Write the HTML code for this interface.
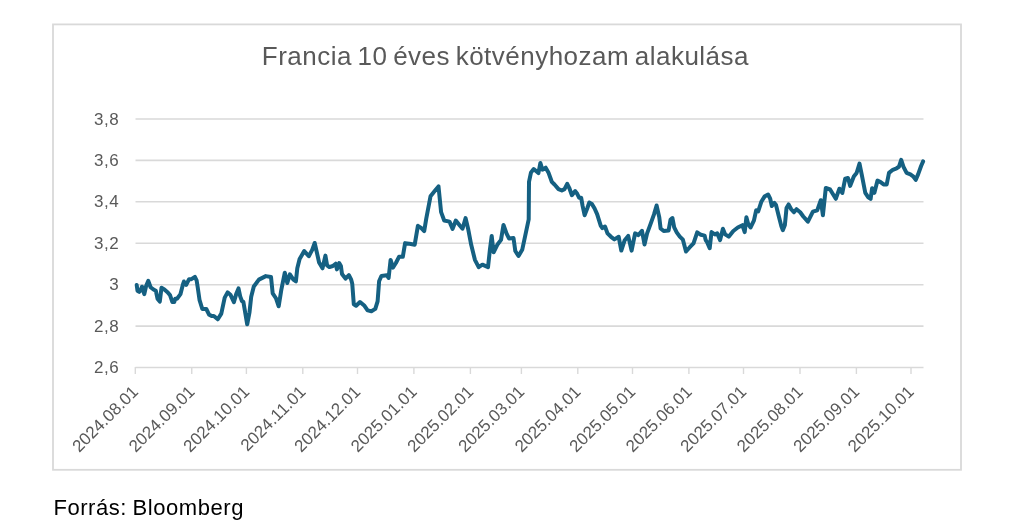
<!DOCTYPE html><html><head><meta charset="utf-8"><style>html,body{margin:0;padding:0;background:#fff;width:1036px;height:523px;overflow:hidden}svg{display:block;will-change:transform}text{font-family:"Liberation Sans",sans-serif}</style></head><body>
<svg width="1036" height="523" viewBox="0 0 1036 523">
<rect x="0" y="0" width="1036" height="523" fill="#fff"/>
<rect x="53" y="24.4" width="908" height="445.4" fill="none" stroke="#d9d9d9" stroke-width="1.8"/>
<text x="261.8" y="65.2" font-size="26" fill="#595959" letter-spacing="0.48" word-spacing="-2">Francia 10 éves kötvényhozam alakulása</text>
<line x1="135.5" y1="119.0" x2="923.5" y2="119.0" stroke="#d9d9d9" stroke-width="1.6"/>
<text x="119.1" y="124.5" font-size="17" fill="#595959" text-anchor="end" letter-spacing="0.5">3,8</text>
<line x1="135.5" y1="160.4" x2="923.5" y2="160.4" stroke="#d9d9d9" stroke-width="1.6"/>
<text x="119.1" y="165.9" font-size="17" fill="#595959" text-anchor="end" letter-spacing="0.5">3,6</text>
<line x1="135.5" y1="201.8" x2="923.5" y2="201.8" stroke="#d9d9d9" stroke-width="1.6"/>
<text x="119.1" y="207.3" font-size="17" fill="#595959" text-anchor="end" letter-spacing="0.5">3,4</text>
<line x1="135.5" y1="243.3" x2="923.5" y2="243.3" stroke="#d9d9d9" stroke-width="1.6"/>
<text x="119.1" y="248.8" font-size="17" fill="#595959" text-anchor="end" letter-spacing="0.5">3,2</text>
<line x1="135.5" y1="284.7" x2="923.5" y2="284.7" stroke="#d9d9d9" stroke-width="1.6"/>
<text x="119.1" y="290.2" font-size="17" fill="#595959" text-anchor="end" letter-spacing="0.5">3</text>
<line x1="135.5" y1="326.1" x2="923.5" y2="326.1" stroke="#d9d9d9" stroke-width="1.6"/>
<text x="119.1" y="331.6" font-size="17" fill="#595959" text-anchor="end" letter-spacing="0.5">2,8</text>
<text x="119.1" y="373.0" font-size="17" fill="#595959" text-anchor="end" letter-spacing="0.5">2,6</text>
<line x1="135.5" y1="367.5" x2="923.5" y2="367.5" stroke="#d9d9d9" stroke-width="1.4"/>
<line x1="135.3" y1="367" x2="135.3" y2="374" stroke="#d9d9d9" stroke-width="1.4"/>
<text transform="translate(139.3,392.8) rotate(-45)" x="0" y="0" font-size="17" fill="#595959" text-anchor="end">2024.08.01</text>
<line x1="191.75" y1="367" x2="191.75" y2="374" stroke="#d9d9d9" stroke-width="1.4"/>
<text transform="translate(195.8,392.8) rotate(-45)" x="0" y="0" font-size="17" fill="#595959" text-anchor="end">2024.09.01</text>
<line x1="246.4" y1="367" x2="246.4" y2="374" stroke="#d9d9d9" stroke-width="1.4"/>
<text transform="translate(250.4,392.8) rotate(-45)" x="0" y="0" font-size="17" fill="#595959" text-anchor="end">2024.10.01</text>
<line x1="302.8" y1="367" x2="302.8" y2="374" stroke="#d9d9d9" stroke-width="1.4"/>
<text transform="translate(306.8,392.8) rotate(-45)" x="0" y="0" font-size="17" fill="#595959" text-anchor="end">2024.11.01</text>
<line x1="357.5" y1="367" x2="357.5" y2="374" stroke="#d9d9d9" stroke-width="1.4"/>
<text transform="translate(361.5,392.8) rotate(-45)" x="0" y="0" font-size="17" fill="#595959" text-anchor="end">2024.12.01</text>
<line x1="413.9" y1="367" x2="413.9" y2="374" stroke="#d9d9d9" stroke-width="1.4"/>
<text transform="translate(417.9,392.8) rotate(-45)" x="0" y="0" font-size="17" fill="#595959" text-anchor="end">2025.01.01</text>
<line x1="470.4" y1="367" x2="470.4" y2="374" stroke="#d9d9d9" stroke-width="1.4"/>
<text transform="translate(474.4,392.8) rotate(-45)" x="0" y="0" font-size="17" fill="#595959" text-anchor="end">2025.02.01</text>
<line x1="521.4" y1="367" x2="521.4" y2="374" stroke="#d9d9d9" stroke-width="1.4"/>
<text transform="translate(525.4,392.8) rotate(-45)" x="0" y="0" font-size="17" fill="#595959" text-anchor="end">2025.03.01</text>
<line x1="577.8" y1="367" x2="577.8" y2="374" stroke="#d9d9d9" stroke-width="1.4"/>
<text transform="translate(581.8,392.8) rotate(-45)" x="0" y="0" font-size="17" fill="#595959" text-anchor="end">2025.04.01</text>
<line x1="632.5" y1="367" x2="632.5" y2="374" stroke="#d9d9d9" stroke-width="1.4"/>
<text transform="translate(636.5,392.8) rotate(-45)" x="0" y="0" font-size="17" fill="#595959" text-anchor="end">2025.05.01</text>
<line x1="688.9" y1="367" x2="688.9" y2="374" stroke="#d9d9d9" stroke-width="1.4"/>
<text transform="translate(692.9,392.8) rotate(-45)" x="0" y="0" font-size="17" fill="#595959" text-anchor="end">2025.06.01</text>
<line x1="743.5" y1="367" x2="743.5" y2="374" stroke="#d9d9d9" stroke-width="1.4"/>
<text transform="translate(747.5,392.8) rotate(-45)" x="0" y="0" font-size="17" fill="#595959" text-anchor="end">2025.07.01</text>
<line x1="800.0" y1="367" x2="800.0" y2="374" stroke="#d9d9d9" stroke-width="1.4"/>
<text transform="translate(804.0,392.8) rotate(-45)" x="0" y="0" font-size="17" fill="#595959" text-anchor="end">2025.08.01</text>
<line x1="856.4" y1="367" x2="856.4" y2="374" stroke="#d9d9d9" stroke-width="1.4"/>
<text transform="translate(860.4,392.8) rotate(-45)" x="0" y="0" font-size="17" fill="#595959" text-anchor="end">2025.09.01</text>
<line x1="911.0" y1="367" x2="911.0" y2="374" stroke="#d9d9d9" stroke-width="1.4"/>
<text transform="translate(915.0,392.8) rotate(-45)" x="0" y="0" font-size="17" fill="#595959" text-anchor="end">2025.10.01</text>
<path d="M136.7,284.9 L137.5,290.7 L139.2,291.8 L140.9,289.5 L142.0,286.7 L144.3,294.1 L146.1,286.1 L148.3,280.9 L150.6,287.2 L153.5,289.5 L155.8,290.7 L157.5,298.7 L159.8,301.6 L161.5,287.8 L164.4,289.5 L167.8,292.4 L170.1,295.3 L172.4,302.1 L174.2,302.1 L175.3,298.7 L177.0,298.7 L180.5,294.1 L182.8,284.9 L183.9,281.5 L186.2,284.9 L189.1,279.2 L191.4,279.2 L194.9,276.9 L196.6,280.3 L197.7,287.2 L199.5,299.8 L202.3,309.0 L206.3,309.0 L209.2,314.8 L211.5,315.9 L213.8,315.9 L217.8,319.3 L221.3,313.6 L224.7,297.6 L227.6,292.4 L230.4,294.7 L233.9,302.1 L236.2,294.1 L238.5,288.4 L240.2,296.4 L241.9,301.0 L243.4,302.0 L247.2,324.3 L249.5,312.3 L251.2,296.8 L253.8,286.5 L258.9,279.6 L265.8,276.1 L271.0,277.0 L272.7,293.4 L276.1,298.5 L278.7,306.3 L281.3,289.9 L284.8,272.7 L287.3,283.0 L289.9,274.4 L293.4,279.6 L295.9,281.3 L297.3,268.3 L299.6,259.1 L304.2,251.1 L308.8,256.2 L312.2,249.9 L314.7,243.0 L316.8,252.2 L319.1,262.5 L322.5,268.3 L325.4,255.6 L327.1,265.4 L329.4,267.1 L332.8,266.0 L335.7,263.7 L336.9,269.4 L339.2,263.1 L340.9,266.0 L342.0,274.0 L345.5,278.6 L348.9,275.1 L351.2,279.7 L352.2,283.4 L352.3,284.4 L353.8,304.3 L356.1,305.8 L360.0,302.0 L364.5,305.8 L367.6,310.4 L371.4,311.2 L375.3,308.9 L377.6,301.3 L379.1,281.3 L381.4,276.0 L386.8,275.2 L388.6,278.0 L390.6,259.9 L392.9,267.6 L395.9,263.0 L399.0,256.8 L402.8,256.8 L405.1,243.1 L409.0,243.8 L409.5,243.7 L414.7,244.7 L417.9,225.8 L421.1,227.9 L424.2,231.1 L426.3,218.4 L430.5,196.3 L434.7,191.1 L438.5,186.4 L441.1,212.1 L444.2,220.5 L449.5,221.6 L452.6,228.9 L455.8,220.5 L460.0,225.8 L462.5,228.7 L465.6,218.1 L468.1,228.7 L471.2,244.8 L474.9,259.8 L478.7,267.2 L482.4,264.7 L488.0,267.2 L489.9,249.8 L491.7,236.1 L493.6,252.3 L497.3,244.8 L501.0,239.9 L503.5,224.9 L506.6,233.6 L509.1,238.6 L513.5,238.0 L515.3,251.0 L518.5,256.0 L522.2,249.8 L528.7,219.3 L529.0,181.8 L531.0,172.4 L533.7,169.1 L538.4,173.1 L540.4,163.0 L542.4,169.7 L545.7,167.7 L548.4,172.4 L551.8,181.8 L554.5,184.5 L558.5,189.1 L561.8,190.5 L564.5,189.1 L567.2,183.8 L569.2,187.8 L571.9,195.2 L575.2,191.1 L577.2,193.8 L579.2,197.8 L581.2,197.8 L582.6,205.9 L584.6,215.2 L587.2,208.5 L589.3,202.5 L591.9,203.9 L594.6,208.5 L597.2,214.4 L600.7,225.6 L602.4,228.2 L605.0,226.5 L607.5,233.4 L611.0,236.8 L614.4,239.4 L618.7,236.8 L621.3,250.6 L624.7,240.2 L628.2,235.9 L631.6,250.6 L635.1,233.4 L638.5,235.1 L642.0,230.8 L644.5,244.5 L647.1,233.4 L650.6,223.9 L654.0,214.4 L656.6,205.5 L659.3,217.4 L660.6,228.5 L663.7,231.0 L668.6,230.4 L670.5,219.8 L672.4,218.0 L674.2,227.3 L676.7,232.3 L679.8,236.6 L682.9,239.7 L686.0,251.5 L689.8,247.2 L693.5,243.4 L697.2,232.3 L700.9,234.8 L704.6,235.6 L704.7,236.0 L705.7,240.1 L707.1,242.2 L709.7,248.2 L711.5,232.1 L714.9,234.4 L717.2,233.3 L720.1,240.1 L722.9,228.7 L725.2,234.4 L728.7,236.7 L733.3,231.0 L737.8,227.5 L742.4,225.2 L744.7,232.1 L746.4,217.2 L748.2,224.1 L750.5,227.5 L753.9,220.6 L756.2,210.3 L758.2,211.3 L761.3,201.8 L764.5,196.6 L768.1,194.5 L770.2,198.7 L771.8,206.0 L774.4,202.9 L776.0,205.0 L778.6,215.5 L781.3,226.0 L782.8,230.2 L784.9,224.9 L786.5,208.1 L788.6,204.4 L791.2,209.2 L793.9,212.3 L796.5,209.2 L800.2,212.3 L803.3,216.5 L807.9,221.7 L812.9,211.7 L817.2,210.3 L820.8,200.2 L822.9,215.3 L825.8,188.0 L830.1,189.5 L835.8,198.8 L839.4,188.7 L842.3,193.0 L845.2,178.7 L848.0,178.0 L850.2,185.9 L853.8,176.5 L856.6,173.0 L859.5,163.6 L861.7,174.4 L865.3,192.8 L868.3,197.4 L870.6,198.9 L872.1,188.2 L874.4,192.8 L877.5,180.6 L880.6,182.1 L883.6,184.4 L886.7,184.4 L889.0,172.9 L892.8,169.8 L896.6,168.3 L898.9,166.8 L901.2,159.9 L903.5,166.8 L906.6,172.9 L910.4,174.4 L913.5,176.7 L915.8,179.8 L918.1,174.4 L921.1,166.0 L923.1,161.4" fill="none" stroke="#156082" stroke-width="4.0" stroke-linejoin="round" stroke-linecap="round"/>
<text x="53.4" y="514.7" font-size="22" fill="#000" letter-spacing="0.55" word-spacing="-1">Forrás: Bloomberg</text>
</svg></body></html>
